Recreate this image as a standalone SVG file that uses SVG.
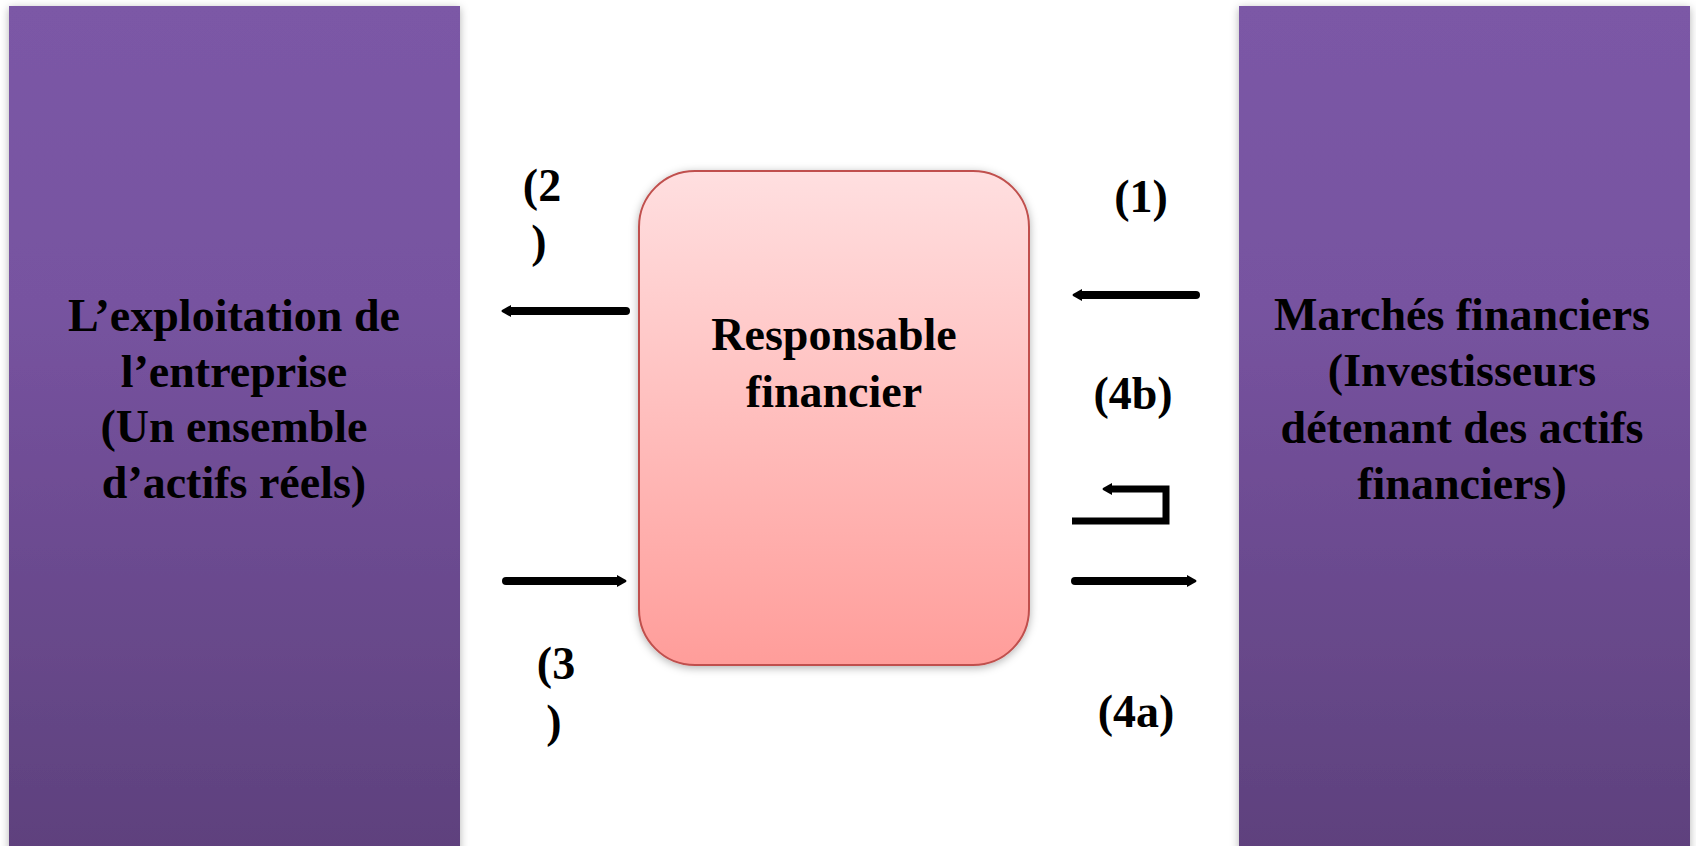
<svg xmlns="http://www.w3.org/2000/svg" width="1696" height="846" viewBox="0 0 1696 846">
<defs>
<linearGradient id="purple" x1="0" y1="0" x2="0" y2="1">
<stop offset="0" stop-color="#7B58A6"/>
<stop offset="0.35" stop-color="#7753A0"/>
<stop offset="1" stop-color="#5E417D"/>
</linearGradient>
<linearGradient id="pink" x1="0" y1="0" x2="0" y2="1">
<stop offset="0" stop-color="#FFDFE0"/>
<stop offset="1" stop-color="#FF9D9A"/>
</linearGradient>
<filter id="shadow" x="-10%" y="-10%" width="120%" height="120%">
<feDropShadow dx="0" dy="2" stdDeviation="4" flood-color="#000" flood-opacity="0.3"/>
</filter>
<marker id="head" viewBox="0 0 10 14" markerWidth="10" markerHeight="14" refX="1" refY="7" orient="auto" markerUnits="userSpaceOnUse">
<path d="M0,1 L9,6 Q10,7 9,8 L0,13 z" fill="#000"/>
</marker>
<style>
.t{font-family:"Liberation Serif","Times New Roman",serif;font-weight:bold;font-size:46px;fill:#000;text-anchor:middle}
.a{fill:none;stroke:#000;stroke-width:8;stroke-linecap:round}
.b{fill:none;stroke:#000;stroke-width:7;stroke-linecap:butt;stroke-linejoin:miter}
</style>
</defs>
<rect width="1696" height="846" fill="#fff"/>
<g id="exploitation">
<rect x="9" y="6" width="451" height="846" fill="url(#purple)" filter="url(#shadow)"/>
<text class="t" x="234" y="331">L’exploitation de</text>
<text class="t" x="234" y="387">l’entreprise</text>
<text class="t" x="234" y="442">(Un ensemble</text>
<text class="t" x="234" y="498">d’actifs réels)</text>
</g>
<g id="marches">
<rect x="1239" y="6" width="451" height="846" fill="url(#purple)" filter="url(#shadow)"/>
<text class="t" x="1462" y="330">Marchés financiers</text>
<text class="t" x="1462" y="386">(Investisseurs</text>
<text class="t" x="1462" y="443">détenant des actifs</text>
<text class="t" x="1462" y="499">financiers)</text>
</g>
<g id="responsable">
<rect x="639" y="171" width="390" height="494" rx="56" ry="56" fill="url(#pink)" stroke="#C0504D" stroke-width="2" filter="url(#shadow)"/>
<text class="t" x="834" y="350">Responsable</text>
<text class="t" x="834" y="407">financier</text>
</g>
<g id="connectors">
<path class="a" d="M626,311 L510,311" marker-end="url(#head)"/>
<path class="a" d="M506,581 L618,581" marker-end="url(#head)"/>
<path class="a" d="M1196,295 L1081,295" marker-end="url(#head)"/>
<path class="a" d="M1075,581 L1188,581" marker-end="url(#head)"/>
<path class="b" d="M1072,521 L1166,521 L1166,489 L1111,489" marker-end="url(#head)"/>
</g>
<g id="labels">
<text class="t" x="542" y="201">(2</text>
<text class="t" x="539" y="257">)</text>
<text class="t" x="556" y="679">(3</text>
<text class="t" x="554" y="737">)</text>
<text class="t" x="1141" y="212">(1)</text>
<text class="t" x="1133" y="409">(4b)</text>
<text class="t" x="1136" y="727">(4a)</text>
</g>
</svg>
